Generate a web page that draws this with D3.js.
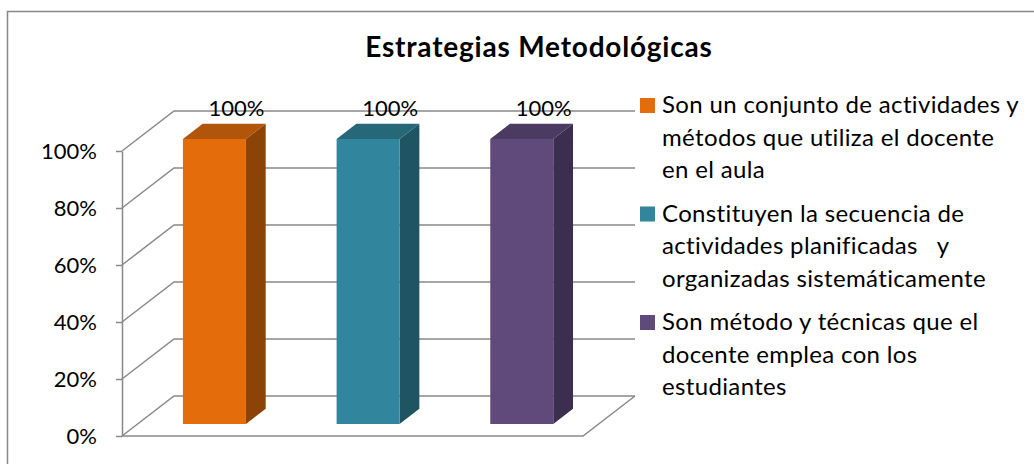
<!DOCTYPE html>
<html>
<head>
<meta charset="utf-8">
<script src="https://cdn.jsdelivr.net/npm/d3@7.9.0/dist/d3.min.js"></script>
<style>
  body { margin: 0; background: #fff; }
  text { font-family: Lato, "Open Sans", sans-serif; fill: #000; }
</style>
</head>
<body>
<div id="chart"></div>
<script>
const title = 'Estrategias Metodológicas';
const categories = ['cat1', 'cat2', 'cat3'];
const values = [1, 1, 1];
const legendLines = [
    ['Son un conjunto de actividades y', 'métodos que utiliza el docente', 'en el aula'],
    ['Constituyen la secuencia de', 'actividades planificadas   y', 'organizadas sistemáticamente'],
    ['Son método y técnicas que el', 'docente emplea con los', 'estudiantes']
];
const yTicks = [0, 0.2, 0.4, 0.6, 0.8, 1];

const faceColors = [
    { front: '#E46C0A', top: '#B05509', side: '#8B4306' },
    { front: '#31859C', top: '#266878', side: '#1F5563' },
    { front: '#604A7B', top: '#4B3A61', side: '#3C2E4F' }
];
const gridColor = '#898989';

const width = 1034;
const height = 464;

const svg = d3.select('#chart')
    .append('svg')
    .attr('width', width)
    .attr('height', height);

// chart area border (right/bottom edges run off the window)
svg.append('rect')
    .attr('x', 7.5)
    .attr('y', 11.5)
    .attr('width', 1050)
    .attr('height', 480)
    .attr('fill', 'none')
    .attr('stroke', '#878787')
    .attr('stroke-width', 1.5);

svg.append('text')
    .attr('x', 539)
    .attr('y', 57)
    .attr('text-anchor', 'middle')
    .attr('font-weight', 'bold')
    .attr('font-size', 28)
    .attr('letter-spacing', 0.8)
    .text(title);

// 3d box
const plotLeft = 122;
const plotRight = 583;
const depthX = 52;
const depthY = -40;
const barFront = 0.3;
const barBack = 0.68;

const x = d3.scaleBand()
    .domain(categories)
    .range([plotLeft, plotRight])
    .paddingInner(0.59)
    .paddingOuter(0.295);

const y = d3.scaleLinear()
    .domain([0, 1])
    .range([436, 151]);

const line = d3.line();

// side wall diagonals + back wall gridlines
yTicks.forEach(t => {
    svg.append('path')
        .attr('d', line([
            [plotLeft, y(t)],
            [plotLeft + depthX, y(t) + depthY],
            [plotRight + depthX, y(t) + depthY]
        ]))
        .attr('fill', 'none')
        .attr('stroke', gridColor)
        .attr('stroke-width', 1.5);
});

// floor
svg.append('path')
    .attr('d', line([
        [plotLeft, y(0)],
        [plotRight, y(0)],
        [plotRight + depthX, y(0) + depthY]
    ]))
    .attr('fill', 'none')
    .attr('stroke', gridColor)
    .attr('stroke-width', 1.5);

// y axis
const yAxis = svg.append('g')
    .attr('transform', `translate(${plotLeft},0)`)
    .call(d3.axisLeft(y)
        .tickValues(yTicks)
        .tickFormat(d3.format('.0%'))
        .tickSizeInner(6)
        .tickSizeOuter(0)
        .tickPadding(19));
yAxis.select('.domain').attr('stroke', gridColor).attr('stroke-width', 1.5);
yAxis.selectAll('.tick line').attr('stroke', gridColor).attr('stroke-width', 1.5);
yAxis.selectAll('.tick text')
    .attr('font-family', 'Lato, sans-serif')
    .attr('font-size', 22)
    .attr('fill', '#000')
    .attr('dy', '0.36em');

// bars
const bars = svg.append('g');
categories.forEach((c, i) => {
    const bw = x.bandwidth();
    const x0 = x(c) + barFront * depthX;
    const yt = y(values[i]) + barFront * depthY;
    const yb = y(0) + barFront * depthY;
    const dx = (barBack - barFront) * depthX;
    const dy = (barBack - barFront) * depthY;
    const col = faceColors[i];

    bars.append('path')
        .attr('d', line([[x0 + bw, yt], [x0 + bw + dx, yt + dy], [x0 + bw + dx, yb + dy], [x0 + bw, yb]]) + 'Z')
        .attr('fill', col.side);
    bars.append('path')
        .attr('d', line([[x0, yt], [x0 + bw, yt], [x0 + bw + dx, yt + dy], [x0 + dx, yt + dy]]) + 'Z')
        .attr('fill', col.top);
    bars.append('rect')
        .attr('x', x0)
        .attr('y', yt)
        .attr('width', bw)
        .attr('height', yb - yt)
        .attr('fill', col.front);

    svg.append('text')
        .attr('x', x0 + bw / 2 + 22)
        .attr('y', yt - 23)
        .attr('text-anchor', 'middle')
        .attr('font-size', 22)
        .text(d3.format('.0%')(values[i]));
});

// legend
const legend = svg.append('g');
legendLines.forEach((lines, i) => {
    const top = 98 + i * 108.5;
    legend.append('rect')
        .attr('x', 640)
        .attr('y', top)
        .attr('width', 15)
        .attr('height', 15)
        .attr('fill', faceColors[i].front);
    lines.forEach((s, j) => {
        legend.append('text')
            .attr('x', 662)
            .attr('y', top + 15 + j * 32.5)
            .attr('font-size', 24)
            .attr('letter-spacing', 0.35)
            .style('white-space', 'pre')
            .text(s);
    });
});
</script>
</body>
</html>
